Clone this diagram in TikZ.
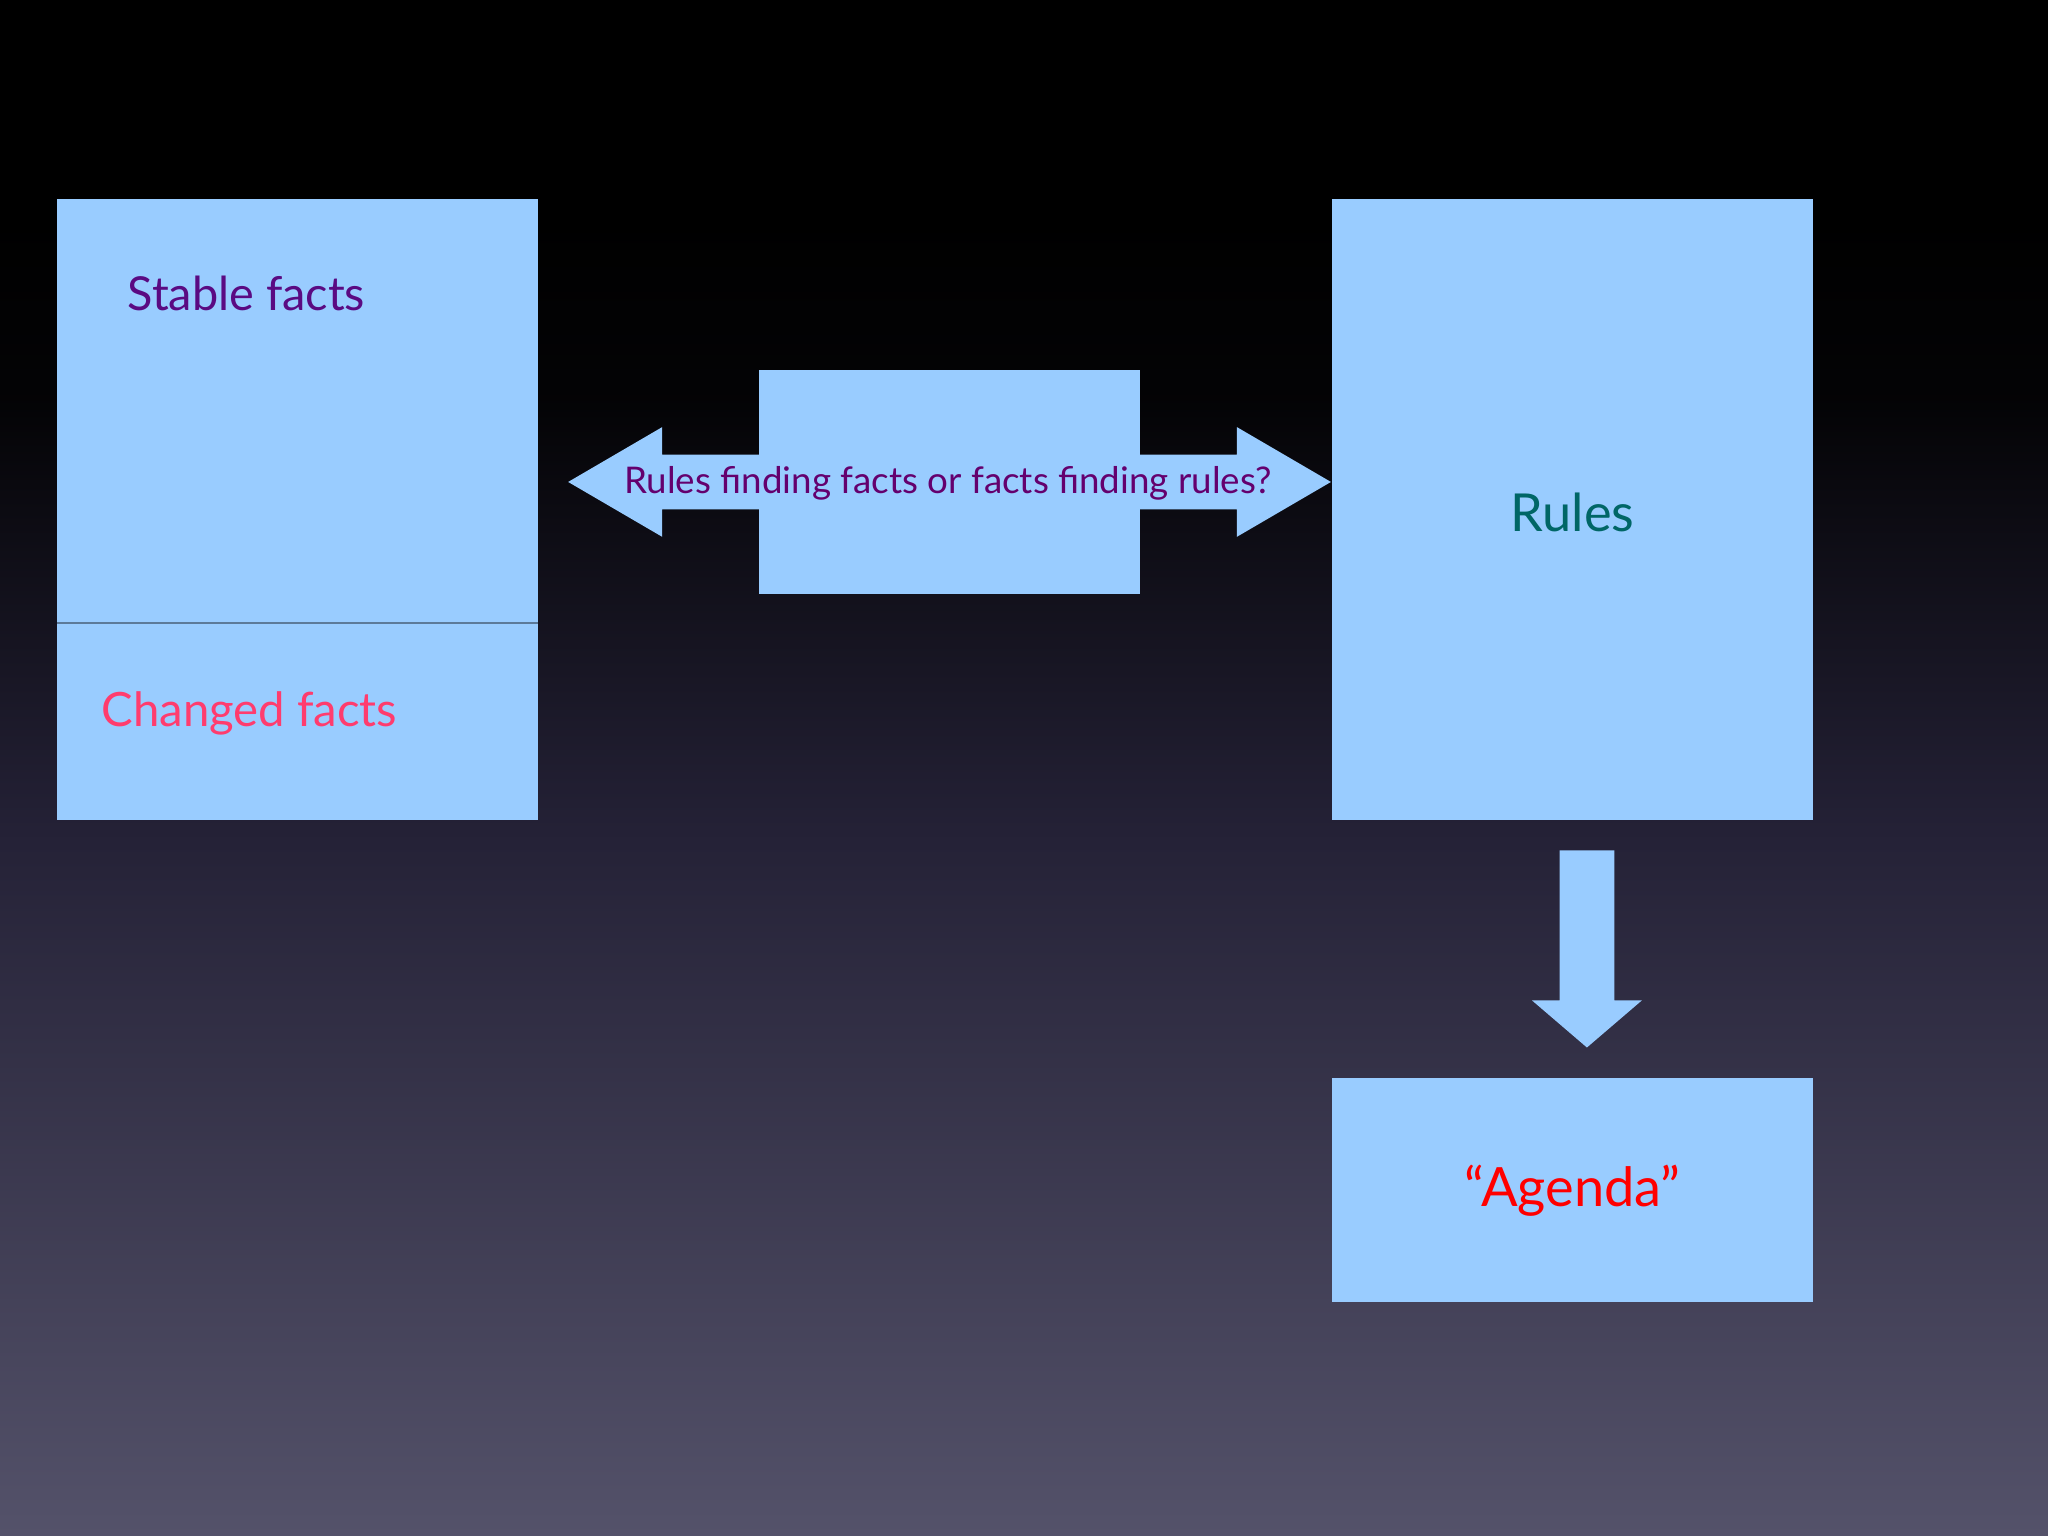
\documentclass[tikz,border=0pt]{standalone}
\usepackage{fontspec}
\setmainfont{Lato}
\definecolor{bgbot}{RGB}{84,82,106}
\definecolor{bgmid}{RGB}{36,33,54}
\pgfdeclareverticalshading{bg}{100bp}{color(0bp)=(bgbot); color(25bp)=(bgbot); color(48bp)=(bgmid); color(62bp)=(black!90!bgmid); color(68bp)=(black); color(100bp)=(black)}
\definecolor{boxc}{RGB}{153,204,255}
\definecolor{stab}{RGB}{90,10,130}
\definecolor{chg}{RGB}{255,60,110}
\definecolor{rul}{RGB}{0,102,102}
\definecolor{mid}{RGB}{100,0,110}
\begin{document}
\begin{tikzpicture}[x=0.01cm,y=-0.01cm,
  box/.style={fill=boxc,draw=none},
  lbl/.style={inner sep=0pt}]
\useasboundingbox (0,0) rectangle (1568,1176);
\shade[shading=bg] (0,0) rectangle (1568,1176);
% left box
\fill[box] (44,152) rectangle (412,628);
\draw[line width=0.6pt,color=black!40!boxc] (44,477) -- (412,477);
\node[lbl,anchor=west,text=stab,font=\fontsize{10.2}{12}\selectfont] (stable) at (97,225) {Stable facts};
\node[lbl,anchor=west,text=chg,font=\fontsize{10.3}{12}\selectfont] (changed) at (77,546) {Changed facts};
% middle
\fill[box] (581,283) rectangle (873,455);
\fill[box] (435,369) -- (507,327) -- (507,348) -- (947,348) -- (947,327) -- (1019,369) -- (947,411) -- (947,390) -- (507,390) -- (507,411) -- cycle;
\node[lbl,text=mid,font=\fontsize{8}{10}\selectfont] (q) at (726,370) {Rules finding facts or facts finding rules?};
% right
\fill[box] (1020,152) rectangle (1388,628);
\node[lbl,text=rul,font=\fontsize{11.4}{14}\selectfont] (rules) at (1204,392) {Rules};
\fill[box] (1194,651) -- (1236,651) -- (1236,766) -- (1257,766) -- (1215,802) -- (1173,766) -- (1194,766) -- cycle;
\fill[box] (1020,825) rectangle (1388,997);
\node[lbl,text=red,font=\fontsize{11.8}{14}\selectfont] (agenda) at (1204,912) {“Agenda”};
\end{tikzpicture}
\end{document}
